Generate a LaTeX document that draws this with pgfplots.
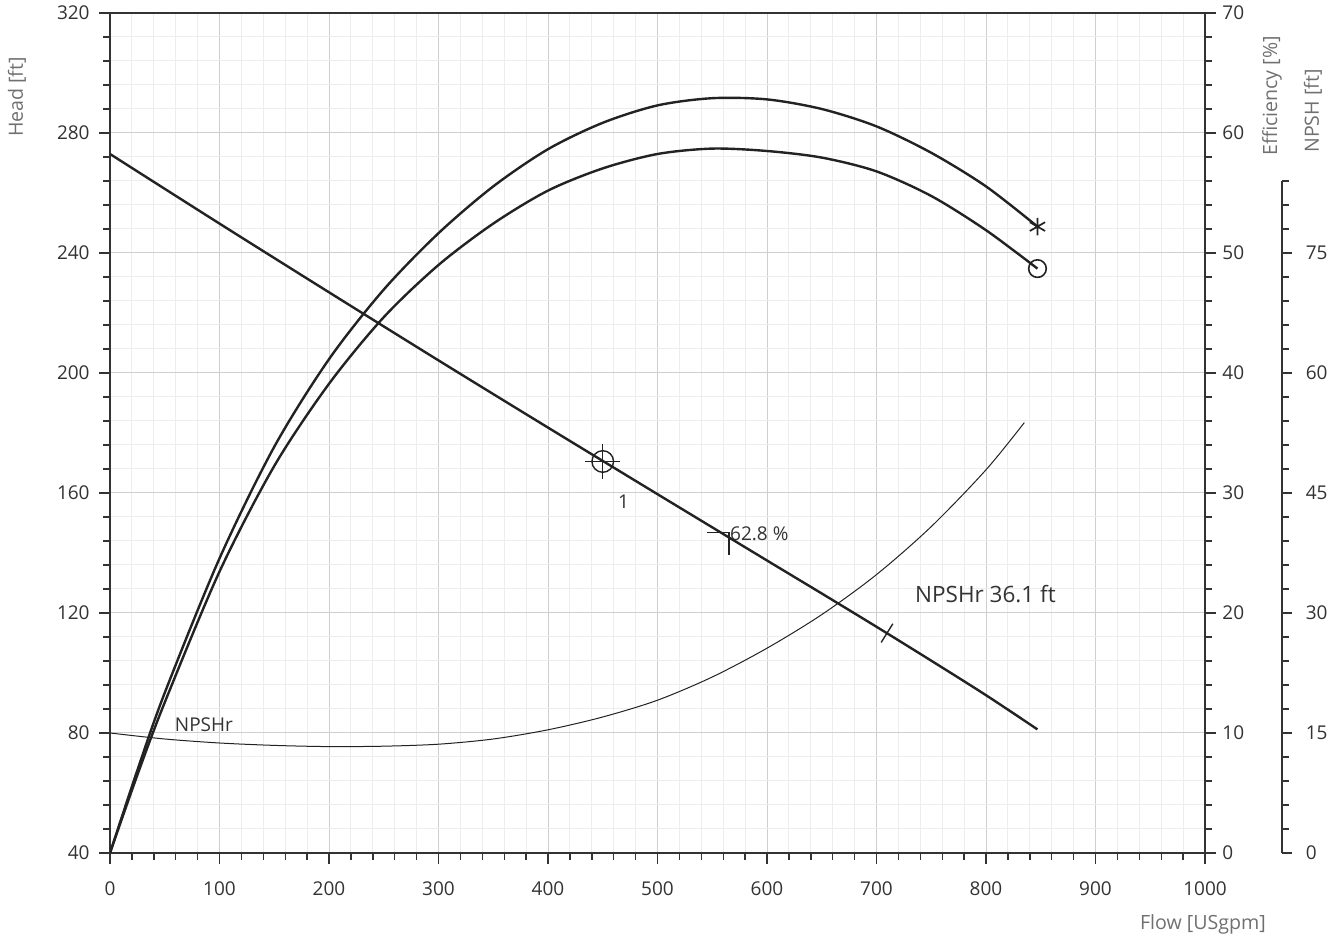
\documentclass[border=0pt]{standalone}
\usepackage{fontspec}
\setmainfont{Open Sans}
\usepackage{pgfplots}
\pgfplotsset{compat=1.18}
\definecolor{tickc}{HTML}{333333}
\definecolor{labc}{HTML}{707070}
\definecolor{gmaj}{HTML}{CFCFCF}
\definecolor{gmin}{HTML}{EDEDED}
\definecolor{curve}{HTML}{222222}
\pgfdeclareplotmark{bep}{%
 \pgfpathmoveto{\pgfqpoint{-\pgfplotmarksize}{0pt}}%
 \pgfpathlineto{\pgfqpoint{0pt}{0pt}}%
 \pgfpathlineto{\pgfqpoint{0pt}{-\pgfplotmarksize}}%
 \pgfusepathqstroke}
\pgfdeclareplotmark{ptick}{%
 \pgfpathmoveto{\pgfqpoint{-0.53\pgfplotmarksize}{-0.848\pgfplotmarksize}}%
 \pgfpathlineto{\pgfqpoint{0.53\pgfplotmarksize}{0.848\pgfplotmarksize}}%
 \pgfusepathqstroke}
\newcommand{\tickfont}{\fontsize{9.5}{11}\selectfont}
\newcommand{\labfont}{\fontsize{9.8}{11}\selectfont}
\pgfplotstableread{
x head
0 273
100 249.8
200 226.9
300 204.2
400 181.8
500 159.6
550 148.55
600 137.5
650 126.5
700 115.4
750 104.1
800 92.6
847 81.2
}\headtab
\pgfplotstableread{
x eff
0 0
25 6.9
50 13.35
100 24.55
150 33.85
200 41.15
250 46.95
300 51.65
350 55.55
400 58.65
450 60.85
500 62.3
550 62.9
600 62.8
650 62.0
700 60.55
750 58.35
800 55.55
847 52.2
}\effA
\pgfplotstableread{
x eff
0 0
25 6.5
50 12.55
100 23.45
150 32.25
200 39.1
250 44.65
300 49.0
350 52.45
400 55.2
450 57.05
500 58.25
550 58.7
600 58.5
650 57.95
700 56.8
750 54.75
800 51.9
847 48.7
}\effB
\pgfplotstableread{
x npsh
0 15.0
50 14.25
100 13.75
150 13.45
200 13.3
250 13.35
300 13.6
350 14.25
400 15.4
450 17.0
500 19.1
550 22.0
600 25.6
650 29.8
700 34.8
750 40.8
800 47.9
835 53.8
}\npshtab
\begin{document}
\begin{tikzpicture}[x=1pt,y=1pt]
\path[use as bounding box] (0,0) rectangle (666.5,468);
% main head axis
\begin{axis}[
  at={(55pt,41.5pt)}, anchor=south west,
  scale only axis, width=547.5pt, height=420pt,
  xmin=0, xmax=1000, ymin=40, ymax=320,
  xtick={0,100,...,1000}, ytick={40,80,...,320},
  minor x tick num=4, minor y tick num=4,
  grid=both,
  major grid style={gmaj, line width=0.5pt},
  minor grid style={gmin, line width=0.5pt},
  tick align=outside, major tick length=5.5pt, minor tick length=3.3pt,
  xtick pos=left, ytick pos=left,
  axis line style={tickc, line width=0.9pt},
  tick style={tickc, line width=0.7pt},
  ticklabel style={font=\tickfont, text=tickc},
  yticklabel style={inner sep=0pt, xshift=-4.5pt},
  xticklabel style={inner sep=0pt, yshift=-8.5pt},
  /pgf/number format/assume math mode=true,
  /pgf/number format/1000 sep={},
]
\addplot[curve, line width=1.2pt, smooth] table[x=x,y=head] {\headtab};
\addplot[only marks, mark=o, mark size=5.4pt, curve, line width=0.7pt] coordinates {(450,170.5)};
\addplot[only marks, mark=+, mark size=8.7pt, curve, line width=0.7pt] coordinates {(450,170.5)};
\addplot[only marks, mark=bep, mark size=11pt, curve, line width=0.7pt] coordinates {(565.3,146.8)};
\addplot[only marks, mark=ptick, mark size=5.5pt, curve, line width=0.7pt] coordinates {(709.6,113.3)};
\node[anchor=west, inner sep=0pt, font=\tickfont, text=tickc] at (axis cs:566,146.4) {62.8 \%};
\node[inner sep=0pt, font=\tickfont, text=tickc] at (axis cs:469,157) {1};
\node[inner sep=0pt, font=\tickfont, text=tickc] at (axis cs:85.8,82.8) {NPSHr};
\node[anchor=west, inner sep=0pt, font=\fontsize{11.25}{13}\selectfont, text=tickc] at (axis cs:735,126.2) {NPSHr 36.1 ft};
\end{axis}
% efficiency axis
\begin{axis}[
  at={(55pt,41.5pt)}, anchor=south west,
  scale only axis, width=547.5pt, height=420pt,
  xmin=0, xmax=1000, ymin=0, ymax=70,
  axis x line=none, axis y line*=right,
  ytick={0,10,...,70}, minor y tick num=4,
  tick align=outside, major tick length=5.5pt, minor tick length=3.3pt,
  axis line style={tickc, line width=0.9pt},
  tick style={tickc, line width=0.7pt},
  ticklabel style={font=\tickfont, text=tickc},
  yticklabel style={inner sep=0pt, xshift=3pt},
  /pgf/number format/assume math mode=true,
]
\addplot[curve, line width=1.2pt, smooth] table[x=x,y=eff] {\effA};
\addplot[curve, line width=1.2pt, smooth] table[x=x,y=eff] {\effB};
\addplot[only marks, mark=asterisk, mark size=4.4pt, curve, line width=0.85pt] coordinates {(847,52.2)};
\addplot[only marks, mark=o, mark size=4.4pt, curve, line width=0.8pt] coordinates {(847,48.7)};
\end{axis}
% NPSH axis
\begin{axis}[
  at={(55pt,41.5pt)}, anchor=south west,
  scale only axis, width=586pt, height=336pt,
  xmin=0, xmax=1070.32, ymin=0, ymax=84,
  axis x line=none, axis y line*=right,
  ytick={0,15,...,75}, minor ytick={3,6,...,84},
  tick align=outside, major tick length=5.2pt, minor tick length=3.3pt,
  axis line style={tickc, line width=0.7pt},
  tick style={tickc, line width=0.6pt},
  ticklabel style={font=\tickfont, text=tickc},
  yticklabel style={inner sep=0pt, xshift=6.5pt},
  /pgf/number format/assume math mode=true,
]
\addplot[curve, line width=0.5pt, smooth] table[x=x,y=npsh] {\npshtab};
\end{axis}
\node[rotate=90, inner sep=0pt, font=\labfont, text=labc] at (8.5,419.5) {Head [ft]};
\node[rotate=90, inner sep=0pt, font=\labfont, text=labc] at (636,420) {Efficiency [\%]};
\node[rotate=90, inner sep=0pt, font=\labfont, text=labc] at (656.5,412.5) {NPSH [ft]};
\node[inner sep=0pt, font=\labfont, text=labc] at (601.5,6) {Flow [USgpm]};
\end{tikzpicture}
\end{document}
